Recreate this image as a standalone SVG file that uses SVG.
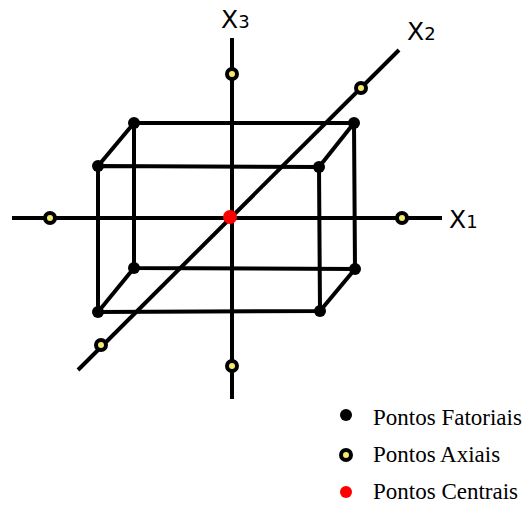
<svg xmlns="http://www.w3.org/2000/svg" width="526" height="510" viewBox="0 0 526 510">
<style>
.ln{stroke:#000;stroke-width:4;fill:none;stroke-linecap:butt}
.fac{fill:#000}
.ax{fill:#f5ea6e;stroke:#000;stroke-width:4}
.ctr{fill:#f00}
.lab{font-family:"DejaVu Sans",sans-serif;fill:#000}
.leg{font-family:"Liberation Serif",serif;font-size:23px;fill:#000}
</style>
<rect width="526" height="510" fill="#fff"/>
<g id="connectors">
<line class="ln" x1="232" y1="38" x2="232" y2="399"/>
<line class="ln" x1="12" y1="218" x2="442" y2="218"/>
<line class="ln" x1="78" y1="370" x2="399" y2="50"/>
<polyline class="ln" points="134,123 354,123 355,269 134,268 134,123"/>
<polyline class="ln" points="98,166 319,167 320,311 98,312 98,166"/>
<line class="ln" x1="98" y1="166" x2="134" y2="123"/>
<line class="ln" x1="319" y1="167" x2="354" y2="123"/>
<line class="ln" x1="98" y1="312" x2="134" y2="268"/>
<line class="ln" x1="320" y1="311" x2="355" y2="269"/>
</g>
<g id="factorial-points">
<circle class="fac" cx="134" cy="123" r="6"/>
<circle class="fac" cx="354" cy="123" r="6"/>
<circle class="fac" cx="134" cy="268" r="6"/>
<circle class="fac" cx="355" cy="269" r="6"/>
<circle class="fac" cx="98" cy="166" r="6"/>
<circle class="fac" cx="319" cy="167" r="6"/>
<circle class="fac" cx="98" cy="312" r="6"/>
<circle class="fac" cx="320" cy="311" r="6"/>
</g>
<g id="axial-points">
<circle class="ax" cx="232" cy="74" r="5"/>
<circle class="ax" cx="232" cy="366" r="5"/>
<circle class="ax" cx="50" cy="218" r="5"/>
<circle class="ax" cx="402" cy="218" r="5"/>
<circle class="ax" cx="361" cy="88" r="5"/>
<circle class="ax" cx="101" cy="345" r="5"/>
</g>
<g id="center-point">
<circle class="ctr" cx="230" cy="217" r="7"/>
</g>
<g id="axis-labels">
<text class="lab" x="221" y="28" font-size="25">X<tspan font-size="18">3</tspan></text>
<text class="lab" x="407" y="40" font-size="25">X<tspan font-size="18">2</tspan></text>
<text class="lab" x="449" y="228" font-size="25">X<tspan font-size="18">1</tspan></text>
</g>
<g id="legend">
<circle class="fac" cx="346" cy="415" r="6"/>
<text class="leg" x="373" y="425">Pontos Fatoriais</text>
<circle class="ax" cx="346" cy="455" r="5"/>
<text class="leg" x="373" y="462">Pontos Axiais</text>
<circle class="ctr" cx="346" cy="492" r="6"/>
<text class="leg" x="373" y="499">Pontos Centrais</text>
</g>
</svg>
